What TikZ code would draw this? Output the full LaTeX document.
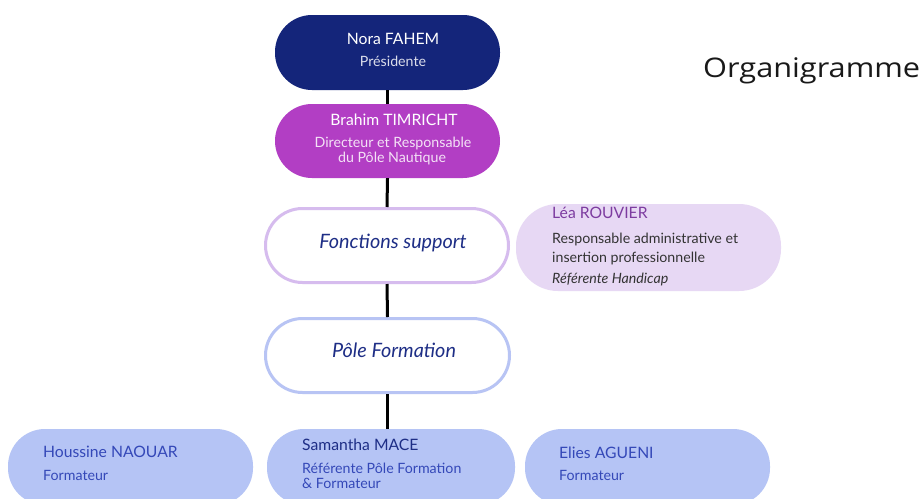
\documentclass[tikz,border=0pt]{standalone}
\usepackage{graphicx}
\usepackage{fontspec}
\setmainfont{Lato}
\newfontfamily\titlefont{Open Sans}
\definecolor{navy}{HTML}{14257A}
\definecolor{violet}{HTML}{B23EC4}
\definecolor{lilacline}{HTML}{D6BCEE}
\definecolor{lilacfill}{HTML}{E7D8F4}
\definecolor{lilactext}{HTML}{7D3CA0}
\definecolor{blueline}{HTML}{B8C4F4}
\definecolor{bluefill}{HTML}{B5C4F5}
\definecolor{bluetext}{HTML}{3448B8}
\definecolor{inktext}{HTML}{1E2E86}
\definecolor{greytext}{HTML}{333333}
\begin{document}
\begin{tikzpicture}[x=1pt,y=-1pt,
  pill/.style={rectangle,rounded corners=37pt,inner sep=0pt},
  txtA/.style={anchor=base,inner sep=0pt,font=\fontsize{15.7}{18}\selectfont},
  txtB/.style={anchor=base,inner sep=0pt,font=\fontsize{14.2}{16}\selectfont},
  txtL/.style={anchor=base west,inner sep=0pt,font=\fontsize{15.7}{18}\selectfont},
  txtLs/.style={anchor=base west,inner sep=0pt,font=\fontsize{14.2}{16}\selectfont},
  txtI/.style={anchor=base,inner sep=0pt,text=inktext,font=\fontsize{19.8}{22}\selectfont\itshape},
  conn/.style={draw=black,line width=3pt}]
\useasboundingbox (0,0) rectangle (923,498);
\clip (0,0) rectangle (923,498);
\fill[white] (0,0) rectangle (923,498);

% boxes
\node[pill,fill=navy,minimum width=225pt,minimum height=75pt] (nora) at (387.5,52.5) {};
\node[pill,fill=violet,minimum width=225pt,minimum height=74pt] (brahim) at (387.5,141) {};
\node[pill,draw=lilacline,line width=3pt,fill=white,minimum width=243pt,minimum height=74pt] (fonctions) at (387,245.5) {};
\node[pill,rounded corners=42pt,fill=lilacfill,minimum width=265pt,minimum height=87pt] (lea) at (648.5,247.5) {};
\node[pill,draw=blueline,line width=3pt,fill=white,minimum width=244pt,minimum height=74pt] (pole) at (387.5,355.5) {};
\node[pill,fill=bluefill,minimum width=245pt,minimum height=76pt] (houssine) at (130.5,467) {};
\node[pill,fill=bluefill,minimum width=248pt,minimum height=76pt] (samantha) at (391,467) {};
\node[pill,fill=bluefill,minimum width=245pt,minimum height=76pt] (elies) at (647.5,467) {};

% connectors
\draw[conn] (nora.south) -- (brahim.north);
\draw[conn] (brahim.south) -- (fonctions.north);
\draw[conn] (fonctions.south) -- (pole.north);
\draw[conn] (pole.south) -- (samantha.north -| pole.south);

% texts
\node[txtA,text=white] (t1) at (393,44.3) {Nora FAHEM};
\node[txtB,text=white!85!navy] (t2) at (393,66) {Présidente};
\node[txtA,text=white] (t3) at (394,125) {Brahim TIMRICHT};
\node[txtB,text=white!85!violet] (t4) at (393,147.5) {Directeur et Responsable};
\node[txtB,text=white!85!violet] (t5) at (392,162) {du Pôle Nautique};
\node[txtI] (t6) at (393,248.3) {Fonctions support};
\node[txtI] (t7) at (394,357.7) {Pôle Formation};
\node[txtL,text=lilactext] (t8) at (552,218) {Léa ROUVIER};
\node[txtLs,text=greytext] (t9) at (552,243) {Responsable administrative et};
\node[txtLs,text=greytext] (t10) at (552,262) {insertion professionnelle};
\node[txtLs,text=greytext,font=\fontsize{14.2}{16}\selectfont\itshape] (t11) at (552,283) {Référente Handicap};
\node[txtL,text=bluetext] (t12) at (43,457) {Houssine NAOUAR};
\node[txtLs,text=bluetext] (t13) at (43,480) {Formateur};
\node[txtL,text=inktext] (t14) at (302,450.7) {Samantha MACE};
\node[txtLs,text=bluetext] (t15) at (302,473.3) {Référente Pôle Formation};
\node[txtLs,text=bluetext] (t16) at (302,488) {\& Formateur};
\node[txtL,text=bluetext] (t17) at (559,458) {Elies AGUENI};
\node[txtLs,text=bluetext] (t18) at (559,480) {Formateur};
\node[anchor=base west,inner sep=0pt,text=black!90] (title) at (703,77) {\resizebox{217pt}{\height}{\titlefont\fontsize{27}{30}\selectfont Organigramme}};
\end{tikzpicture}
\end{document}
